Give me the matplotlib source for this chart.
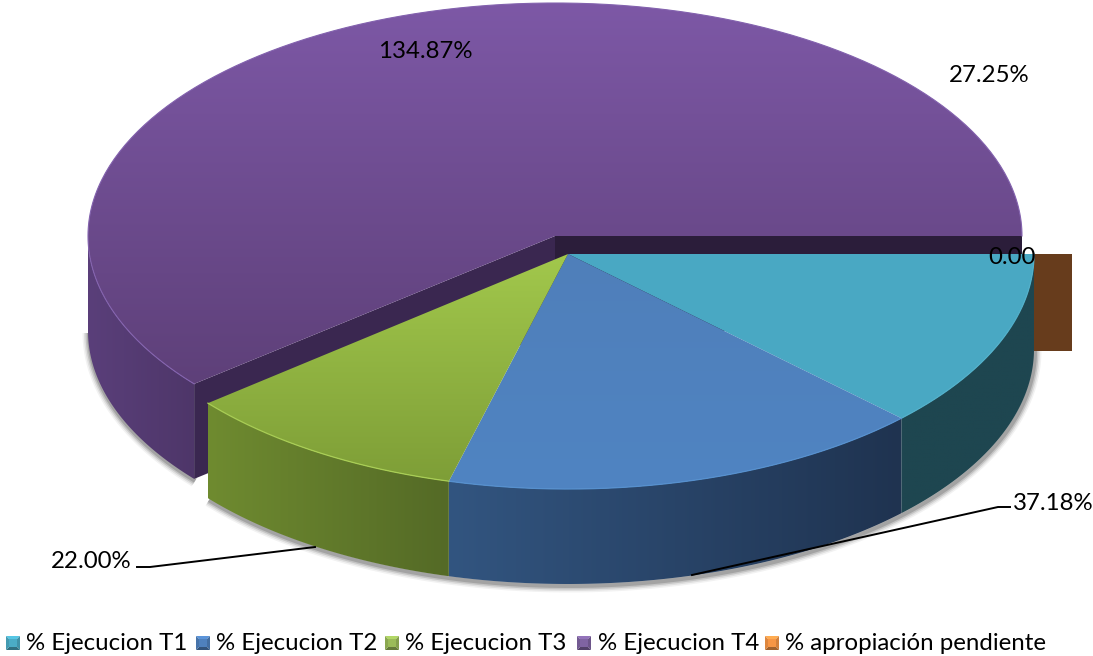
import numpy as np
import matplotlib
matplotlib.use("Agg")
import matplotlib.pyplot as plt
from matplotlib.patches import Polygon
from matplotlib.colors import to_rgb

plt.rcParams['font.family'] = ['Lato', 'DejaVu Sans']

categories = ['% Ejecucion T1', '% Ejecucion T2', '% Ejecucion T3', '% Ejecucion T4', '% apropiación pendiente']
values = [27.25, 37.18, 22.00, 134.87, 0.00]
label_texts = ['27.25%', '37.18%', '22.00%', '134.87%', '0.00']

top_colors = [('#4AA9C4', '#49A8C3'), ('#4F7FBA', '#5084C2'), ('#A2C84C', '#7E9E37'), ('#7D58A6', '#5E4079')]
side_colors = [('#1E4650', '#1E4650'), ('#325580', '#1F3350'), ('#6F8B30', '#546A26'), ('#5A3F7A', '#4E3669')]
rim_colors = ['#52B0CA', '#5690CE', '#A9CE55', '#8362AE']
legend_colors = ['#4BACC6', '#4F81BD', '#9BBB59', '#8064A2', '#F79646']

W, H = 1093, 656
CX, CY, RX, RY = 568, 254, 466, 235
EX, EY, ERX, ERY = 555, 236, 467, 233
DEPTH = 95

fig = plt.figure(figsize=(W / 100, H / 100), dpi=100)
ax = fig.add_axes([0, 0, 1, 1])
ax.set_xlim(0, W)
ax.set_ylim(H, 0)
ax.axis('off')

fracs = np.array(values) / sum(values) * 360
starts = np.concatenate([[0], np.cumsum(fracs)[:-1]])
ends = starts + fracs


def rim(a0, a1, cx, cy, rx, ry, dy=0):
    t = np.radians(np.linspace(a0, a1, 240))
    return np.column_stack([cx + rx * np.cos(t), cy + ry * np.sin(t) + dy])


def grad(xy, c0, c1, vertical=True, z=2):
    xy = np.asarray(xy)
    x0, y0 = xy.min(axis=0)
    x1, y1 = xy.max(axis=0)
    r = np.linspace(0, 1, 256)[:, None]
    col = (1 - r) * np.array(to_rgb(c0)) + r * np.array(to_rgb(c1))
    arr = col[:, None, :] if vertical else col[None, :, :]
    im = ax.imshow(arr, extent=(x0, x1, y1, y0), origin='upper', aspect='auto',
                   zorder=z, interpolation='bilinear')
    im.set_clip_path(Polygon(xy, closed=True, transform=ax.transData))


def shadow(curve, z):
    for lw, a in zip([13, 10, 7, 4], [0.05, 0.08, 0.12, 0.16]):
        ax.plot(curve[:, 0] + 1, curve[:, 1] + 2, color='black', lw=lw * 0.72, alpha=a,
                zorder=z, solid_capstyle='butt')


# shadows under the rim
p0, p1 = starts[3], 360
shadow(rim(p0, 180, EX, EY, ERX, ERY, DEPTH), 0.5)
shadow(rim(0, ends[2], CX, CY, RX, RY, DEPTH), 0.5)

# exploded purple slice
side = np.vstack([rim(p0, 180, EX, EY, ERX, ERY), rim(180, p0, EX, EY, ERX, ERY, DEPTH)])
grad(side, *side_colors[3], vertical=False, z=1)
corner = rim(p0, p0, EX, EY, ERX, ERY)[0]
cut = [(EX, EY), tuple(corner), (corner[0], corner[1] + DEPTH), (EX, EY + DEPTH)]
ax.add_patch(Polygon(cut, closed=True, fc='#3A2750', ec='none', zorder=1.2))
right = rim(0, 0, EX, EY, ERX, ERY)[0]
band = [(EX, EY), tuple(right), (right[0], right[1] + DEPTH), (EX, EY + DEPTH)]
ax.add_patch(Polygon(band, closed=True, fc='#2B1D3A', ec='none', zorder=1.2))
top4 = np.vstack([[(EX, EY)], rim(p0, p1, EX, EY, ERX, ERY)])
grad(top4, *top_colors[3], z=1.5)
edge = rim(p0, p1, EX, EY, ERX, ERY)
ax.plot(edge[:, 0], edge[:, 1], color=rim_colors[3], lw=0.8, zorder=1.6)

# zero-size slice: only its cut face shows
x_end = CX + RX
ax.fill_between([x_end, x_end + 38], CY, CY + DEPTH + 2, color='#673C1C', lw=0, zorder=1.7)

# main slices
for i in range(3):
    a0, a1 = starts[i], ends[i]
    s = np.vstack([rim(a0, a1, CX, CY, RX, RY), rim(a1, a0, CX, CY, RX, RY, DEPTH)])
    grad(s, *side_colors[i], vertical=False, z=2)
for i in range(3):
    a0, a1 = starts[i], ends[i]
    t = np.vstack([[(CX, CY)], rim(a0, a1, CX, CY, RX, RY)])
    grad(t, *top_colors[i], z=3)
    e = rim(a0, a1, CX, CY, RX, RY)
    ax.plot(e[:, 0], e[:, 1], color=rim_colors[i], lw=0.9, zorder=3.2)

ax.set_xlim(0, W)
ax.set_ylim(H, 0)

# leader lines
ax.plot([137, 150, 315], [567, 567, 547], color='black', lw=1.4, zorder=5)
ax.plot([1010, 998, 692], [507, 507, 575], color='black', lw=1.4, zorder=5)

# data labels
fs = 17.3
label_pos = [(989, 75, 'center'), (1013, 503, 'left'), (132, 562, 'right'), (425, 51, 'center'), (1012, 257, 'center')]
for txt, (x, y, ha) in zip(label_texts, label_pos):
    ax.text(x, y, txt, ha=ha, va='center', fontsize=fs, color='black', zorder=6)

# legend
box_x = [6, 196, 385, 577, 765]
text_x = [26, 216, 405, 598, 785]
for name, col, bx, tx in zip(categories, legend_colors, box_x, text_x):
    rgb = np.array(to_rgb(col))
    s = 14
    yy = 636
    pts = {'tl': (bx, yy), 'tr': (bx + s, yy), 'br': (bx + s, yy + s), 'bl': (bx, yy + s), 'c': (bx + s / 2, yy + s / 2)}
    shades = [(('tl', 'tr', 'c'), 1.15), (('tr', 'br', 'c'), 0.85), (('br', 'bl', 'c'), 0.65), (('bl', 'tl', 'c'), 0.9)]
    for keys, k in shades:
        ax.add_patch(Polygon([pts[q] for q in keys], closed=True, fc=np.clip(rgb * k, 0, 1), ec='none', zorder=5))
    ax.add_patch(Polygon([(bx + 3, yy + 3), (bx + s - 3, yy + 3), (bx + s - 3, yy + s - 3), (bx + 3, yy + s - 3)],
                         closed=True, fc=rgb, ec='none', zorder=5.1))
    ax.text(tx, 643, name, ha='left', va='center', fontsize=fs, color='black', zorder=6)

fig.savefig('out.png', dpi=100)
